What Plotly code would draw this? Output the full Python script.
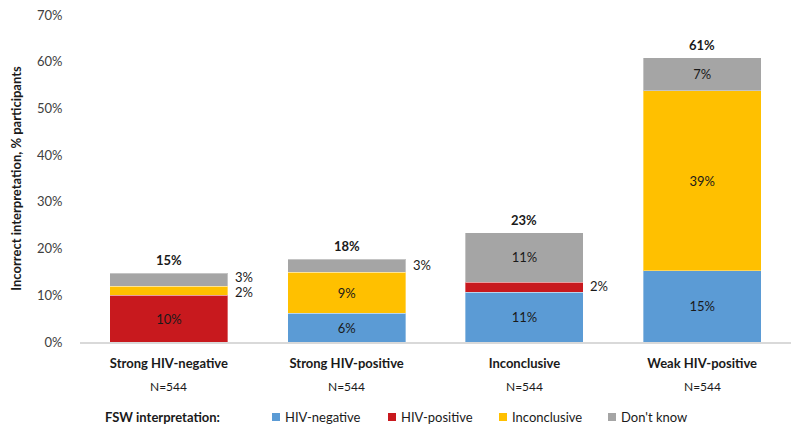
import plotly.graph_objects as go

categories = ["Strong HIV-negative", "Strong HIV-positive", "Inconclusive", "Weak HIV-positive"]
n_labels = ["N=544", "N=544", "N=544", "N=544"]
series_names = ["HIV-negative", "HIV-positive", "Inconclusive", "Don't know"]
hiv_negative = [None, 6.2, 10.6, 15.2]
hiv_positive = [10.0, None, 2.2, None]
inconclusive = [1.9, 8.7, None, 38.6]
dont_know = [2.8, 2.8, 10.6, 7.1]
colors = ["#5B9BD5", "#C8191E", "#FFC000", "#A5A5A5"]
legend_title = "FSW interpretation:"

series = [hiv_negative, hiv_positive, inconclusive, dont_know]
FONT = "Lato"
TXT = "#1a1a1a"
INSIDE_MIN = 4
Y_MAX = 70
W, H = 800, 434
ML, MR, MT, MB = 80, 9, 15, 92
PLOT_W = W - ML - MR
PLOT_H = H - MT - MB
PX_PER_UNIT = PLOT_H / Y_MAX
MIN_SEP = 15  # minimal pixel separation between outside labels

# legend layout (pixel positions of the swatches)
LEG_SQ_X = [272, 388, 499, 608]
LEG_Y = 417
LEG_TITLE_X = 103


def px_to_paper_x(px):
    return (px - ML) / PLOT_W


def px_to_paper_y(py):
    return (H - MB - py) / PLOT_H


fig = go.Figure()
for name, vals, col in zip(series_names, series, colors):
    txt = [f"{v:.0f}%" if (v is not None and v >= INSIDE_MIN) else "" for v in vals]
    fig.add_trace(go.Bar(
        name=name, x=categories, y=vals,
        marker=dict(color=col, line=dict(color="rgba(255,255,255,0.35)", width=1)),
        text=txt, textposition="inside", insidetextanchor="middle",
        textfont=dict(family=FONT, size=13, color=TXT), hoverinfo="skip",
    ))

annotations = []
shapes = []
for i, cat in enumerate(categories):
    base = 0.0
    outside = []
    for vals in series:
        v = vals[i]
        if v is None:
            continue
        if v < INSIDE_MIN:
            outside.append([base + v / 2, v, 0.0])
        base += v
    for k in range(1, len(outside)):
        gap = (outside[k][0] - outside[k - 1][0]) * PX_PER_UNIT
        if gap < MIN_SEP:
            d = (MIN_SEP - gap) / 2
            outside[k][2] += d
            outside[k - 1][2] -= d
    for ymid, v, shift in outside:
        annotations.append(dict(x=cat, y=ymid, xref="x", yref="y", text=f"{v:.0f}%",
                                showarrow=False, xanchor="left", xshift=64, yshift=shift + 1,
                                font=dict(family=FONT, size=13, color=TXT)))
    annotations.append(dict(x=cat, y=base, xref="x", yref="y", text=f"<b>{base:.0f}%</b>",
                            showarrow=False, yanchor="bottom", yshift=3,
                            font=dict(family=FONT, size=13, color=TXT)))
    annotations.append(dict(x=cat, y=0, xref="x", yref="y", text=n_labels[i], showarrow=False,
                            yanchor="middle", yshift=-44, font=dict(family=FONT, size=12, color=TXT)))

# custom legend
annotations.append(dict(x=px_to_paper_x(LEG_TITLE_X), y=px_to_paper_y(LEG_Y), xref="paper", yref="paper",
                        text=f"<b>{legend_title}</b>", showarrow=False, xanchor="left", yanchor="middle",
                        font=dict(family=FONT, size=13, color=TXT)))
for name, col, sx in zip(series_names, colors, LEG_SQ_X):
    shapes.append(dict(type="rect", xref="paper", yref="paper",
                       x0=px_to_paper_x(sx), x1=px_to_paper_x(sx + 8),
                       y0=px_to_paper_y(LEG_Y + 4), y1=px_to_paper_y(LEG_Y - 4),
                       fillcolor=col, line=dict(width=0)))
    annotations.append(dict(x=px_to_paper_x(sx + 11), y=px_to_paper_y(LEG_Y), xref="paper", yref="paper",
                            text=name, showarrow=False, xanchor="left", yanchor="middle",
                            font=dict(family=FONT, size=13, color=TXT)))

fig.update_layout(
    barmode="stack", bargap=0.336,
    width=W, height=H,
    margin=dict(l=ML, r=MR, t=MT, b=MB, autoexpand=False),
    plot_bgcolor="white", paper_bgcolor="white",
    font=dict(family=FONT, size=13, color=TXT),
    showlegend=False,
    annotations=annotations,
    shapes=shapes,
)
fig.update_yaxes(range=[0, Y_MAX], dtick=10, ticksuffix="%", showgrid=False, zeroline=False,
                 showline=False, automargin=False, ticks="outside", ticklen=14, tickcolor="rgba(0,0,0,0)",
                 tickfont=dict(family=FONT, size=13, color="#404040"),
                 title=dict(text="<b>Incorrect interpretation, % participants</b>",
                            font=dict(family=FONT, size=13, color=TXT), standoff=12))
fig.update_xaxes(showline=True, linecolor="#D9D9D9", linewidth=2, automargin=False,
                 ticks="outside", ticklen=8, tickcolor="rgba(0,0,0,0)",
                 tickfont=dict(family=FONT, size=13, color=TXT),
                 ticktext=[f"<b>{c}</b>" for c in categories], tickvals=categories)

fig.write_html("out.html", post_script="document.body.style.margin='0';",
               config={"displayModeBar": False})
